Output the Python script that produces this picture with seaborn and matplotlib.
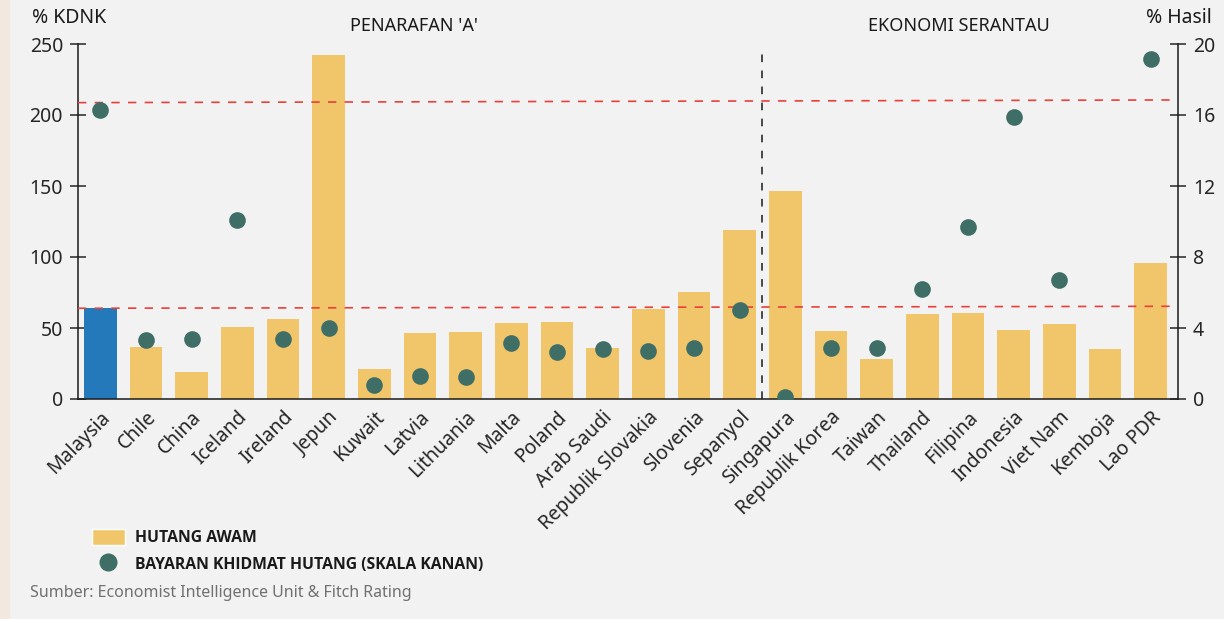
import seaborn as sns
import pandas as pd
import matplotlib.pyplot as plt
from matplotlib.patches import Patch, Rectangle
from matplotlib.lines import Line2D
from matplotlib.font_manager import FontProperties

countries = ['Malaysia', 'Chile', 'China', 'Iceland', 'Ireland', 'Jepun', 'Kuwait', 'Latvia',
             'Lithuania', 'Malta', 'Poland', 'Arab Saudi', 'Republik Slovakia', 'Slovenia',
             'Sepanyol', 'Singapura', 'Republik Korea', 'Taiwan', 'Thailand', 'Filipina',
             'Indonesia', 'Viet Nam', 'Kemboja', 'Lao PDR']
# hutang awam, % KDNK (left axis)
public_debt = [64, 36.6, 19, 50.7, 56.3, 242, 21, 46.5, 47, 53.5, 54.2, 36, 63.4, 75.4,
               119, 146.5, 47.9, 28.2, 59.9, 60.6, 48.6, 52.8, 35.2, 95.8]
# bayaran khidmat hutang, % hasil (right axis); Kemboja has no value
debt_service = [16.3, 3.3, 3.4, 10.1, 3.4, 4.0, 0.8, 1.3, 1.25, 3.15, 2.65, 2.8, 2.7, 2.9,
                5.0, 0.12, 2.9, 2.85, 6.2, 9.7, 15.9, 6.7, None, 19.15]
# red reference lines (left axis units, left end / right end)
upper_ref = [208.7, 210.6]
lower_ref = [63.9, 65.3]

YELLOW = '#f1c66a'
BLUE = '#2479ba'
GREEN = '#3f6e66'
BG = '#f2f2f2'
FONT = ['Noto Sans', 'DejaVu Sans']

sns.set_style('ticks')
plt.rcParams['font.family'] = FONT
plt.rcParams['axes.edgecolor'] = '#1a1a1a'
plt.rcParams['text.color'] = '#1a1a1a'

df = pd.DataFrame({'Negara': countries, 'Hutang': public_debt, 'Bayaran': debt_service})
bar_colors = [BLUE if c == 'Malaysia' else YELLOW for c in countries]

fig = plt.figure(figsize=(12.24, 6.19), dpi=100, facecolor=BG)
fig.patches.append(Rectangle((0, 0), 9 / 1224, 1, transform=fig.transFigure,
                             color='#f3e8df', zorder=0))
ax = fig.add_axes([78 / 1224, 1 - 399 / 619, 1100 / 1224, 355 / 619])
ax.set_facecolor(BG)

sns.barplot(data=df, x='Negara', y='Hutang', hue='Negara', palette=bar_colors,
            width=0.72, saturation=1, legend=False, linewidth=0, ax=ax)

xlim = (-0.49, 23.6)
ax.plot(xlim, upper_ref, color='#e8403a', lw=1.2, ls=(0, (5, 5)), zorder=3)
ax.plot(xlim, lower_ref, color='#e8403a', lw=1.2, ls=(0, (5, 5)), zorder=3)
ax.vlines(14.5, 0, 246, colors='#1a1a1a', linewidth=1.1, linestyles=(0, (5, 5.5)), zorder=3)

ax2 = ax.twinx()
sns.stripplot(data=df, x='Negara', y='Bayaran', order=countries, jitter=False,
              color=GREEN, size=12, linewidth=0, ax=ax2, zorder=4)

ax.set_xlim(*xlim)
ax.set_ylim(0, 250)
ax2.set_ylim(0, 20)
ax.set_yticks(range(0, 251, 50))
ax2.set_yticks(range(0, 21, 4))
ax.set_xlabel('')
ax.set_ylabel('')
ax2.set_xlabel('')
ax2.set_ylabel('')

for s in ['top', 'right']:
    ax.spines[s].set_visible(False)
for s in ['top', 'left', 'bottom']:
    ax2.spines[s].set_visible(False)
ax.spines['left'].set_linewidth(1.1)
ax.spines['bottom'].set_linewidth(1.1)
ax2.spines['right'].set_linewidth(1.1)

ax.tick_params(axis='y', direction='inout', length=11.5, width=1.1, labelsize=14, pad=5)
ax2.tick_params(axis='y', direction='inout', length=11.5, width=1.1, labelsize=14, pad=5)
ax.tick_params(axis='x', length=0, labelsize=14, pad=6)
ax.set_xticks(range(len(countries)))
ax.set_xticklabels(countries, rotation=45, ha='right', va='top', rotation_mode='anchor')

fig.text(32 / 1224, 1 - 18 / 619, '% KDNK', ha='left', va='center', size=14)
fig.text(1212 / 1224, 1 - 18 / 619, '% Hasil', ha='right', va='center', size=14)
fig.text(414 / 1224, 1 - 26 / 619, "PENARAFAN 'A'", ha='center', va='center', size=13)
fig.text(959 / 1224, 1 - 26 / 619, 'EKONOMI SERANTAU', ha='center', va='center', size=13)

handles = [Patch(facecolor=YELLOW, label='HUTANG AWAM'),
           Line2D([], [], marker='o', ls='none', markersize=12, color=GREEN,
                  label='BAYARAN KHIDMAT HUTANG (SKALA KANAN)')]
legend_font = FontProperties(family=['Open Sans', 'DejaVu Sans'], weight='bold', size=11.3)
fig.legend(handles=handles, loc='upper left', bbox_to_anchor=(92 / 1224, 1 - 529 / 619),
           frameon=False, prop=legend_font,
           handlelength=2.1, handleheight=1.15, handletextpad=0.62,
           labelspacing=0.62, borderaxespad=0, borderpad=0)

fig.text(30 / 1224, 1 - 593 / 619, 'Sumber: Economist Intelligence Unit & Fitch Rating',
         ha='left', va='center', size=11.5, color='#707070')

fig.savefig('out.png', dpi=100, facecolor=BG)
